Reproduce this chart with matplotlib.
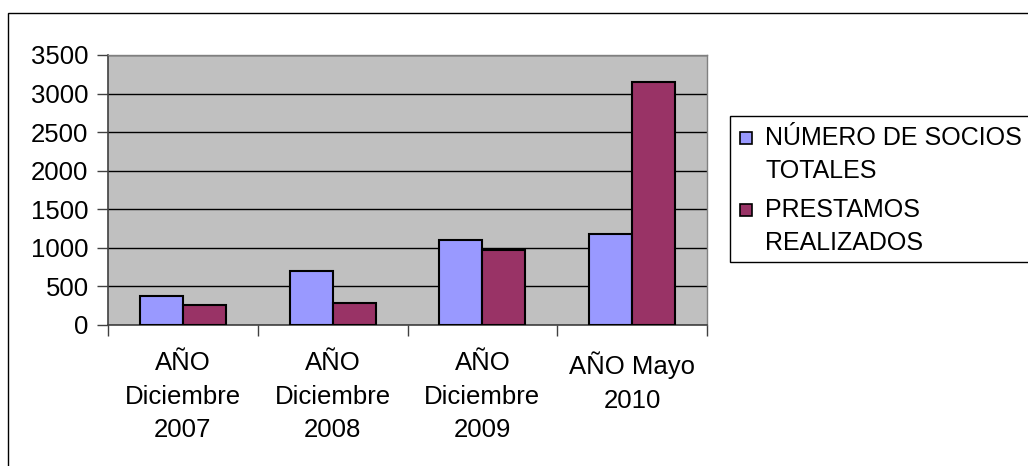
import matplotlib
matplotlib.use("Agg")
import matplotlib.pyplot as plt
from matplotlib.patches import Rectangle
import numpy as np

categories = ["AÑO\nDiciembre\n2007", "AÑO\nDiciembre\n2008", "AÑO\nDiciembre\n2009", "AÑO Mayo\n2010"]
socios = [380, 700, 1100, 1180]
prestamos = [255, 280, 975, 3150]
series_labels = ["NÚMERO DE SOCIOS\nTOTALES", "PRESTAMOS\nREALIZADOS"]
series_colors = ['#9999FF', '#993366']
yticks = [0, 500, 1000, 1500, 2000, 2500, 3000, 3500]

plt.rcParams['font.family'] = ['Liberation Sans', 'DejaVu Sans']
FS = 18.5
LFS = 18

W, H = 1028, 466
fig = plt.figure(figsize=(W / 100, H / 100), dpi=100)
fig.patch.set_facecolor('white')


def fx(px):
    return px / W


def fy(py):
    return 1 - py / H


# outer chart border
fig.patches.append(Rectangle((fx(8), -0.2), 2.0, fy(13) + 0.2, transform=fig.transFigure,
                             fill=False, edgecolor='black', linewidth=1.0, zorder=0))

ax = fig.add_axes([fx(108), fy(325), (707 - 108) / W, (325 - 55) / H])
ax.set_facecolor('#C0C0C0')

x = np.arange(len(categories))
w = 0.287
b1 = ax.bar(x - w / 2, socios, w, color=series_colors[0], edgecolor='black', linewidth=1.5, zorder=3)
b2 = ax.bar(x + w / 2, prestamos, w, color=series_colors[1], edgecolor='black', linewidth=1.5, zorder=3)

ax.set_xlim(-0.5, len(categories) - 0.5)
ax.set_ylim(0, 3500)
ax.set_yticks(yticks)
ax.set_yticklabels([str(t) for t in yticks], fontsize=FS)
ax.yaxis.grid(True, color='black', linewidth=1.0, zorder=1)
ax.set_axisbelow(True)

ax.set_xticks(np.arange(len(categories) + 1) - 0.5)
ax.set_xticklabels([])
ax.set_xticks(x, minor=True)
ax.set_xticklabels(categories, minor=True, fontsize=FS, linespacing=1.5)
ax.tick_params(axis='x', which='minor', length=0, pad=19)
ax.tick_params(axis='x', which='major', length=8, width=1, direction='out', color='#404040')
ax.tick_params(axis='y', length=8, width=1, direction='out', color='#404040', pad=6)

for s in ['left', 'bottom']:
    ax.spines[s].set_color('#404040')
    ax.spines[s].set_linewidth(1.2)
for s in ['top', 'right']:
    ax.spines[s].set_color('#808080')
    ax.spines[s].set_linewidth(1.0)

# legend (drawn manually to match layout)
fig.patches.append(Rectangle((fx(730), fy(262)), 1.0, fy(116) - fy(262), transform=fig.transFigure,
                             facecolor='white', edgecolor='black', linewidth=1.0, zorder=5))
entry_top = [145, 217]
for lab, col, base in zip(series_labels, series_colors, entry_top):
    fig.patches.append(Rectangle((fx(740), fy(base - 1)), 12 / W, 12 / H, transform=fig.transFigure,
                                 facecolor=col, edgecolor='black', linewidth=1.2, zorder=6))
    for k, line in enumerate(lab.split("\n")):
        fig.text(fx(765), fy(base + 33 * k), line, fontsize=LFS, va='baseline', ha='left', zorder=7)

fig.savefig('out.png', dpi=100)
